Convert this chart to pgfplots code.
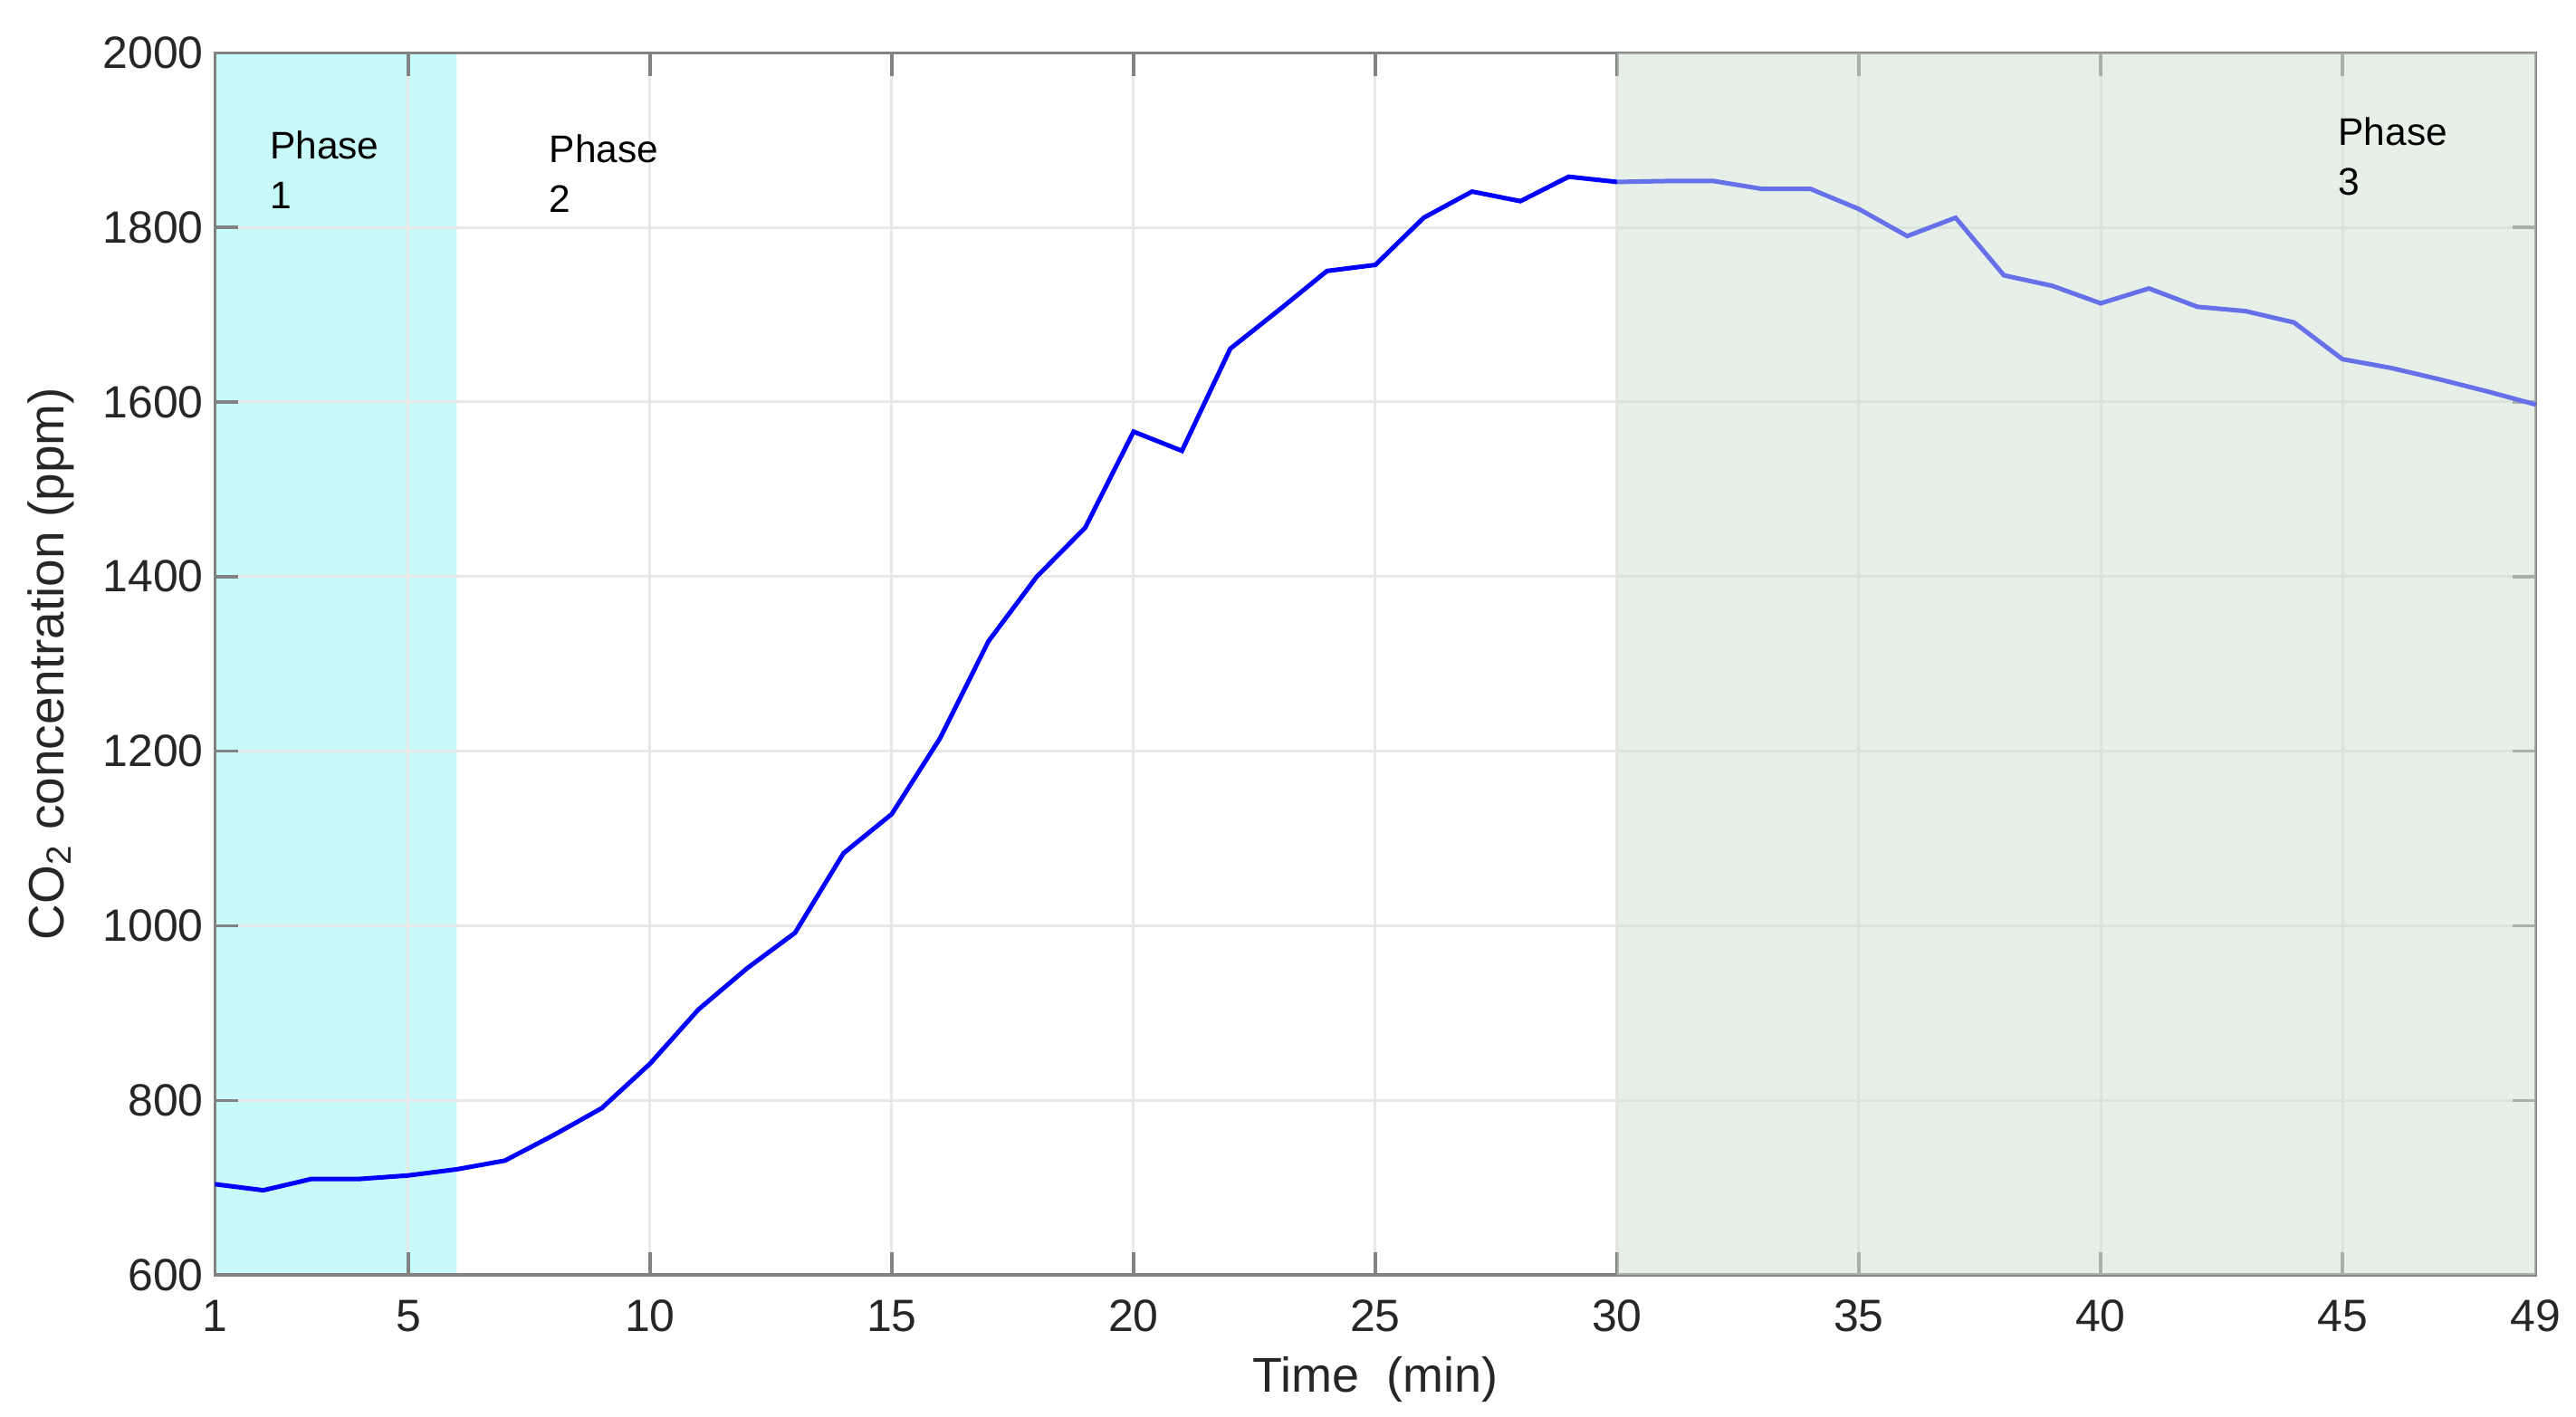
\documentclass[border=0pt]{standalone}
\usepackage{fontspec}
\setmainfont{Liberation Sans}
\usepackage{pgfplots}
\pgfplotsset{compat=1.18}

\definecolor{phaseone}{RGB}{200,250,250}
\definecolor{phasethree}{RGB}{205,225,210}
\definecolor{axisgray}{RGB}{130,130,130}

\begin{document}
\begin{tikzpicture}
\begin{axis}[
  set layers=standard,
  scale only axis,
  width=18.04cm,
  height=9.5cm,
  xmin=1, xmax=49,
  ymin=600, ymax=2000,
  xtick={1,5,10,15,20,25,30,35,40,45,49},
  ytick={600,800,1000,1200,1400,1600,1800,2000},
  /pgf/number format/assume math mode=true,
  /pgf/number format/1000 sep={},
  tick label style={font=\fontsize{10}{12}\selectfont, text=black!85},
  xticklabel style={yshift=-2pt},
  yticklabel style={xshift=1pt},
  xlabel={Time\ \ (min)},
  ylabel={CO\textsubscript{2} concentration (ppm)},
  xlabel style={font=\fontsize{10.8}{13}\selectfont, text=black!85, yshift=1.5pt},
  ylabel style={font=\fontsize{11}{13}\selectfont, text=black!85, yshift=-0.5pt},
  grid=major,
  grid style={black!9, line width=0.6pt},
  axis line style={axisgray, line width=0.7pt},
  tick style={axisgray, line width=0.7pt},
  tick align=inside,
  major tick length=0.18cm,
]
% phase 1 shading, behind the grid
\addplot[on layer=axis background, draw=none, fill=phaseone]
  coordinates {(1,600) (6,600) (6,2000) (1,2000)} \closedcycle;

% CO2 concentration (ppm) per minute
\addplot[blue, line width=1pt] coordinates {
(1,704) (2,697) (3,710) (4,710) (5,714) (6,721) (7,731) (8,760) (9,791) (10,842)
(11,904) (12,951) (13,992) (14,1083) (15,1128) (16,1215) (17,1326) (18,1400) (19,1456) (20,1566)
(21,1544) (22,1661) (23,1705) (24,1750) (25,1757) (26,1811) (27,1841) (28,1830) (29,1858) (30,1852)
(31,1853) (32,1853) (33,1844) (34,1844) (35,1821) (36,1790) (37,1811) (38,1745) (39,1733) (40,1713)
(41,1730) (42,1709) (43,1704) (44,1691) (45,1649) (46,1639) (47,1626) (48,1612) (49,1597)
};

% phase 3 shading, laid over the line
\addplot[draw=none, fill=phasethree, fill opacity=0.5]
  coordinates {(30,600) (49,600) (49,2000) (30,2000)} \closedcycle;

\node[font=\fontsize{8.5}{11}\selectfont, anchor=north west, align=left, inner sep=0pt]
  at (axis cs:2.12,1911) {Phase\\1};
\node[font=\fontsize{8.5}{11}\selectfont, anchor=north west, align=left, inner sep=0pt]
  at (axis cs:7.9,1907) {Phase\\2};
\node[font=\fontsize{8.5}{11}\selectfont, anchor=north west, align=left, inner sep=0pt]
  at (axis cs:44.9,1927) {Phase\\3};
\end{axis}
% white margin above and left of the axis
\draw[draw=none] (current axis.north west) -- ++(0,0.41cm);
\draw[draw=none] (current axis.west) -- ++(-1.67cm,0);
\end{tikzpicture}
\end{document}
